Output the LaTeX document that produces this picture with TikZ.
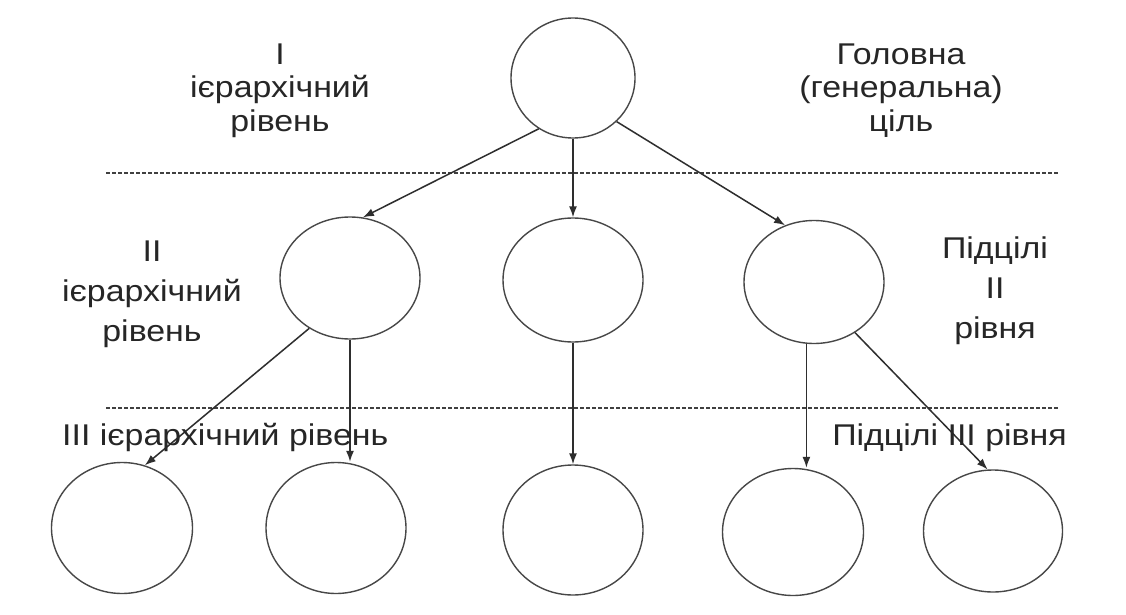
\documentclass[tikz,border=0pt]{standalone}
\usepackage{fontspec}
\setmainfont{Liberation Sans}[FakeStretch=1.13]
\usetikzlibrary{positioning,arrows.meta,shapes.geometric}

\begin{document}
\begin{tikzpicture}[x=1pt,y=-1pt,
    circ/.style={ellipse,draw=black!72,line width=1.4pt,inner sep=0pt},
    lbl/.style={text=black!85,inner sep=0pt,font=\fontsize{30}{33.5}\selectfont},
    lbltwo/.style={lbl,font=\fontsize{30}{40}\selectfont},
    arr/.style={-{Latex[length=11pt,width=8pt]},line width=1.5pt,draw=black!82},
    sep/.style={dashed,dash pattern=on 4pt off 2pt,line width=1.6pt,draw=black!75}]
  \useasboundingbox[fill=white] (0,0) rectangle (1126,615);

  % goal and separators
  \node[circ,minimum width=124pt,minimum height=120pt] (g) at (573,78) {};
  \coordinate (d1l) at (106,173); \coordinate (d1r) at (1059,173);
  \coordinate (d2l) at (106,408); \coordinate (d2r) at (1059,408);
  \draw[sep] (d1l) -- (d1r);
  \draw[sep] (d2l) -- (d2r);

  % II level
  \node[circ,minimum width=140pt,minimum height=122pt] (s1) at (350,278) {};
  \node[circ,minimum width=140pt,minimum height=124pt] (s2) at (573,280) {};
  \node[circ,minimum width=140pt,minimum height=123pt] (s3) at (814,282) {};

  % III level
  \node[circ,minimum width=141pt,minimum height=131pt] (p1) at (122,528) {};
  \node[circ,minimum width=140pt,minimum height=131pt] (p2) at (336,528) {};
  \node[circ,minimum width=140pt,minimum height=130pt] (p3) at (573,530) {};
  \node[circ,minimum width=141pt,minimum height=127pt] (p4) at (793,532) {};
  \node[circ,minimum width=139pt,minimum height=122pt] (p5) at (993,531) {};

  \draw[arr] (g.236) -- (s1.78);
  \draw[arr] (g.south) -- (s2.north);
  \draw[arr] (g.315) -- (s3.117);
  \draw[arr] (s1.231) -- (p1.70);
  \draw[arr] (s1.south) -- (s1.south |- p2.north);
  \draw[arr] (s2.south) -- (p3.north);
  \draw[arr] (s3.263) -- (s3.263 |- p4.north);
  \draw[arr] (s3.309) -- (p5.95);

  % labels
  \node[lbl,align=center,anchor=north] (l1) at (280,43.5) {I\\ієрархічний\\рівень};
  \node[lbl,align=center,anchor=north] (r1) at (901,43.5) {Головна\\(генеральна)\\ціль};
  \node[lbltwo,align=center,anchor=north] (l2) at (152,240.5) {II\\ієрархічний\\рівень};
  \node[lbltwo,align=center,anchor=north] (r2) at (995,236.5) {Підцілі\\II\\рівня};
  \node[lbl,anchor=base west] (l3) at (62,445) {III ієрархічний рівень};
  \node[lbl,anchor=base east] (r3) at (1067,445) {Підцілі III рівня};
\end{tikzpicture}
\end{document}
